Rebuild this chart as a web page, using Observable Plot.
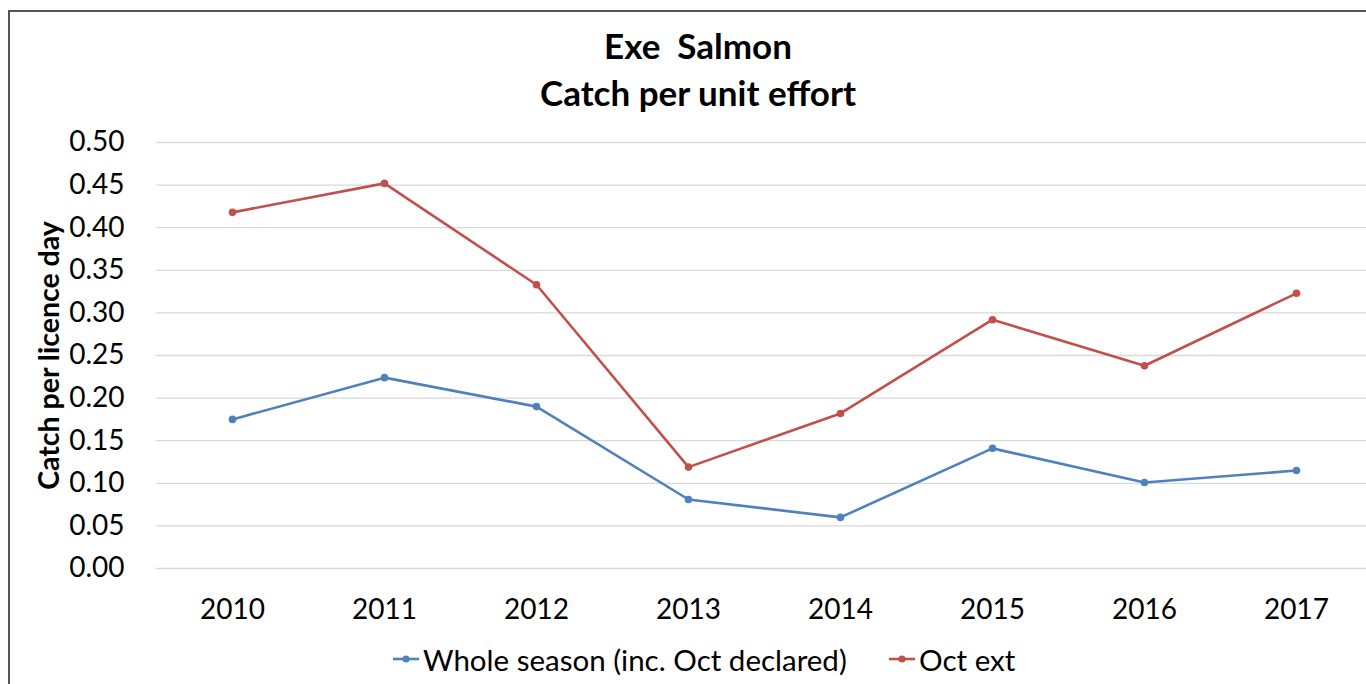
<!DOCTYPE html>
<html>
<head>
<meta charset="utf-8">
<script src="https://cdn.jsdelivr.net/npm/d3@7"></script>
<script src="https://cdn.jsdelivr.net/npm/@observablehq/plot@0.6"></script>
<style>
  html, body { margin: 0; padding: 0; background: #fff; width: 1366px; height: 684px; overflow: hidden; }
  #frame { position: absolute; left: 8px; top: 10px; width: 1400px; height: 720px; border: 2px solid #555; background: #fff; }
  #title { position: absolute; left: 0; top: 22px; width: 1396px; text-align: center; font-family: Lato, "Open Sans", sans-serif; font-weight: bold; font-size: 35px; line-height: 47px; color: #000; white-space: pre; }
  #chart { position: absolute; left: 0; top: 120px; width: 1380px; }
  #chart svg { overflow: visible; max-width: none !important; }
  #legend { position: absolute; left: 0; top: 640px; width: 1366px; height: 38px; font-family: Lato, "Open Sans", sans-serif; font-size: 29.5px; color: #000; }
  .item { position: absolute; top: 0; display: flex; align-items: center; height: 38px; white-space: pre; }
  .item svg { margin-right: 3px; }
</style>
</head>
<body>
<div id="frame"></div>
<div id="title"></div>
<div id="chart"></div>
<div id="legend"></div>
<script>
const years = ["2010", "2011", "2012", "2013", "2014", "2015", "2016", "2017"];
const wholeSeason = [0.175, 0.224, 0.190, 0.081, 0.060, 0.141, 0.101, 0.115];
const octExt = [0.418, 0.452, 0.333, 0.119, 0.182, 0.292, 0.238, 0.323];
const seriesNames = ["Whole season (inc. Oct declared)", "Oct ext"];
const seriesColors = ["#4F81BD", "#C0504D"];
const yTicks = [0, 0.05, 0.10, 0.15, 0.20, 0.25, 0.30, 0.35, 0.40, 0.45, 0.50];
const titleLines = ["Exe  Salmon", "Catch per unit effort"];
const yLabel = "Catch per licence day";

const rows = [];
years.forEach((yr, i) => {
  rows.push({year: yr, value: wholeSeason[i], series: seriesNames[0]});
  rows.push({year: yr, value: octExt[i], series: seriesNames[1]});
});

document.getElementById("title").textContent = titleLines.join("\n");

const font = 'Lato, "Open Sans", sans-serif';
const chart = Plot.plot({
  width: 1380,
  height: 520,
  marginLeft: 156,
  marginRight: 8,
  marginTop: 22,
  marginBottom: 72,
  style: {fontFamily: font, fontSize: "28px", color: "#000", background: "transparent", overflow: "visible", maxWidth: "none"},
  x: {type: "point", domain: years, padding: 0.5, label: null},
  y: {domain: [0, 0.5], label: null},
  color: {domain: seriesNames, range: seriesColors},
  marks: [
    Plot.gridY(yTicks, {stroke: "#d9d9d9", strokeOpacity: 1, strokeWidth: 1.3}),
    Plot.axisY({ticks: yTicks, tickFormat: d3.format(".2f"), tickSize: 0, tickPadding: 32, fontSize: 28, label: null}),
    Plot.axisX({tickSize: 0, tickPadding: 31, fontSize: 28, label: null}),
    Plot.line(rows, {x: "year", y: "value", z: "series", stroke: "series", strokeWidth: 2.6}),
    Plot.dot(rows, {x: "year", y: "value", fill: "series", r: 3.8}),
    Plot.text([yLabel], {frameAnchor: "left", textAnchor: "middle", dx: -107, dy: 0, rotate: -90, fontSize: 28.5, fontWeight: "bold", text: d => d})
  ]
});
document.getElementById("chart").appendChild(chart);

// legend
const legend = document.getElementById("legend");
const lefts = [392, 888];
seriesNames.forEach((name, i) => {
  const item = document.createElement("div");
  item.className = "item";
  item.style.left = lefts[i] + "px";
  item.innerHTML = `<svg width="28" height="12"><line x1="1" y1="6" x2="27" y2="6" stroke="${seriesColors[i]}" stroke-width="2.6"/><circle cx="14" cy="6" r="3.6" fill="${seriesColors[i]}"/></svg><span>${name}</span>`;
  legend.appendChild(item);
});
</script>
</body>
</html>
